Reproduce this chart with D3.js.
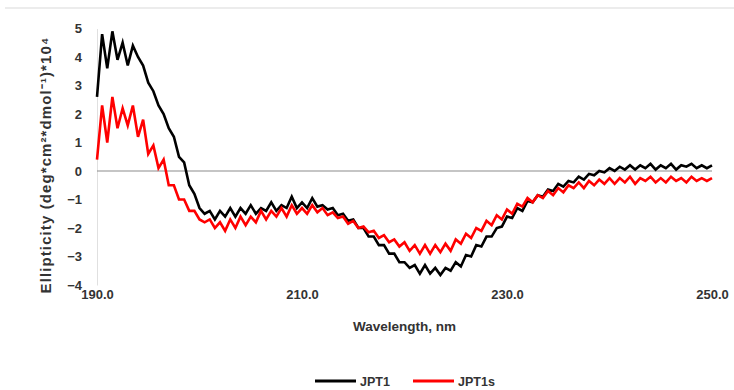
<!DOCTYPE html>
<html>
<head>
<meta charset="utf-8">
<script src="https://cdn.jsdelivr.net/npm/d3@7"></script>
<style>
  body { margin: 0; background: #fff; }
  text { font-family: "Liberation Sans", Arial, sans-serif; font-weight: bold; fill: #333; }
</style>
</head>
<body>
<div id="chart"></div>
<script>
// Wavelength grid (nm), sampled every 0.5 nm
const wavelengths = d3.range(190, 250.001, 0.5);

// Ellipticity values (x10^4)
const jpt1 = [
  2.6, 4.8, 3.6, 4.9, 3.9, 4.5, 3.7, 4.4, 4.0, 3.7,
  3.1, 2.8, 2.3, 2.0, 1.5, 1.2, 0.5, 0.3, -0.5, -0.8,
  -1.3, -1.5, -1.4, -1.7, -1.4, -1.6, -1.3, -1.6, -1.3, -1.5,
  -1.2, -1.5, -1.3, -1.4, -1.1, -1.4, -1.2, -1.3, -0.9, -1.3,
  -1.1, -1.3, -0.95, -1.25, -1.2, -1.35, -1.3, -1.55, -1.5, -1.75,
  -1.7, -2.0, -2.0, -2.3, -2.3, -2.6, -2.6, -2.9, -2.9, -3.2,
  -3.2, -3.4, -3.3, -3.6, -3.3, -3.6, -3.4, -3.65, -3.4, -3.5,
  -3.2, -3.35, -2.95, -3.0, -2.6, -2.65, -2.3, -2.3, -2.0, -1.95,
  -1.6, -1.65, -1.3, -1.4, -1.05, -1.1, -0.85, -0.9, -0.65, -0.7,
  -0.45, -0.55, -0.35, -0.4, -0.2, -0.3, -0.1, -0.15, 0.0, -0.05,
  0.1, 0.0, 0.15, 0.05, 0.2, 0.05, 0.2, 0.1, 0.25, 0.05,
  0.2, 0.1, 0.25, 0.05, 0.2, 0.15, 0.25, 0.1, 0.2, 0.1,
  0.2
];

const jpt1s = [
  0.4, 2.3, 1.0, 2.6, 1.5, 2.2, 1.6, 2.3, 1.2, 1.8,
  0.6, 0.9, 0.1, 0.4, -0.5, -0.5, -1.0, -1.0, -1.4, -1.4,
  -1.7, -1.8, -1.7, -2.0, -1.8, -2.1, -1.7, -2.0, -1.6, -1.9,
  -1.6, -1.8, -1.4, -1.7, -1.4, -1.6, -1.3, -1.6, -1.2, -1.5,
  -1.3, -1.5, -1.2, -1.45, -1.3, -1.55, -1.45, -1.65, -1.6, -1.85,
  -1.75, -2.0, -1.95, -2.15, -2.1, -2.35, -2.25, -2.5, -2.4, -2.65,
  -2.5, -2.8, -2.6, -2.9, -2.6, -2.9, -2.6, -2.85, -2.55, -2.8,
  -2.4, -2.55, -2.2, -2.35, -2.0, -2.1, -1.75, -1.9, -1.55, -1.7,
  -1.35, -1.5, -1.15, -1.25, -0.95, -1.1, -0.85, -0.95, -0.7, -0.85,
  -0.6, -0.75, -0.5, -0.6, -0.4, -0.6, -0.35, -0.5, -0.3, -0.45,
  -0.25, -0.45, -0.25, -0.4, -0.2, -0.45, -0.25, -0.35, -0.2, -0.4,
  -0.25, -0.4, -0.2, -0.35, -0.25, -0.4, -0.2, -0.35, -0.25, -0.35,
  -0.25
];

const xTicks = [190, 210, 230, 250];
const yTicks = [5, 4, 3, 2, 1, 0, -1, -2, -3, -4];
const seriesNames = ["JPT1", "JPT1s"];
const seriesColors = ["#000000", "#ff0000"];

const width = 734, height = 390;
const margin = {top: 28.5, right: 22, bottom: 105, left: 97};

const svg = d3.select("#chart")
    .append("svg")
    .attr("width", width)
    .attr("height", height);

// Scales
const x = d3.scaleLinear()
    .domain([190, 250])
    .range([margin.left, width - margin.right]);

const y = d3.scaleLinear()
    .domain([-4, 5])
    .range([height - margin.bottom, margin.top]);

// Top border line
svg.append("line")
    .attr("x1", 5).attr("x2", width)
    .attr("y1", 8).attr("y2", 8)
    .attr("stroke", "#d9d9d9")
    .attr("stroke-width", 1);

// Y axis (faint line, no ticks)
const yAxis = svg.append("g")
    .attr("transform", `translate(${margin.left},0)`)
    .call(d3.axisLeft(y).tickValues(yTicks).tickSize(0).tickPadding(15).tickFormat(d3.format("d")));
yAxis.select(".domain").attr("stroke", "#e0e0e0");
yAxis.selectAll("text").attr("font-size", 13).style("fill", "#333");

// X axis labels (low position, no line)
const xAxis = svg.append("g")
    .attr("transform", `translate(0,${y(-4)})`)
    .call(d3.axisBottom(x).tickValues(xTicks).tickSize(0).tickPadding(5).tickFormat(d3.format(".1f")));
xAxis.select(".domain").remove();
xAxis.selectAll("text").attr("font-size", 13).style("fill", "#333");

// Zero line
svg.append("line")
    .attr("x1", x(190)).attr("x2", x(250))
    .attr("y1", y(0)).attr("y2", y(0))
    .attr("stroke", "#8c8c8c")
    .attr("stroke-width", 1.2);

// Axis titles
svg.append("text")
    .attr("x", (x(190) + x(250)) / 2)
    .attr("y", 331)
    .attr("text-anchor", "middle")
    .attr("font-size", 13.5)
    .text("Wavelength, nm");

svg.append("text")
    .attr("transform", `translate(51,${165}) rotate(-90)`)
    .attr("text-anchor", "middle")
    .attr("font-size", 15)
    .attr("letter-spacing", 1.1)
    .text("Ellipticity (deg*cm²*dmol⁻¹)*10⁴");

// Lines
const line = d3.line()
    .x((d, i) => x(wavelengths[i]))
    .y(d => y(d));

[jpt1, jpt1s].forEach((series, k) => {
  svg.append("path")
      .datum(series)
      .attr("fill", "none")
      .attr("stroke", seriesColors[k])
      .attr("stroke-width", 2.6)
      .attr("stroke-linejoin", "miter")
      .attr("d", line);
});

// Legend
const legendX = [315, 413];
seriesNames.forEach((name, i) => {
  svg.append("line")
      .attr("x1", legendX[i]).attr("x2", legendX[i] + 41)
      .attr("y1", 381).attr("y2", 381)
      .attr("stroke", seriesColors[i])
      .attr("stroke-width", 3);
  svg.append("text")
      .attr("x", legendX[i] + 45)
      .attr("y", 385.5)
      .attr("font-size", 12.5)
      .text(name);
});
</script>
</body>
</html>
